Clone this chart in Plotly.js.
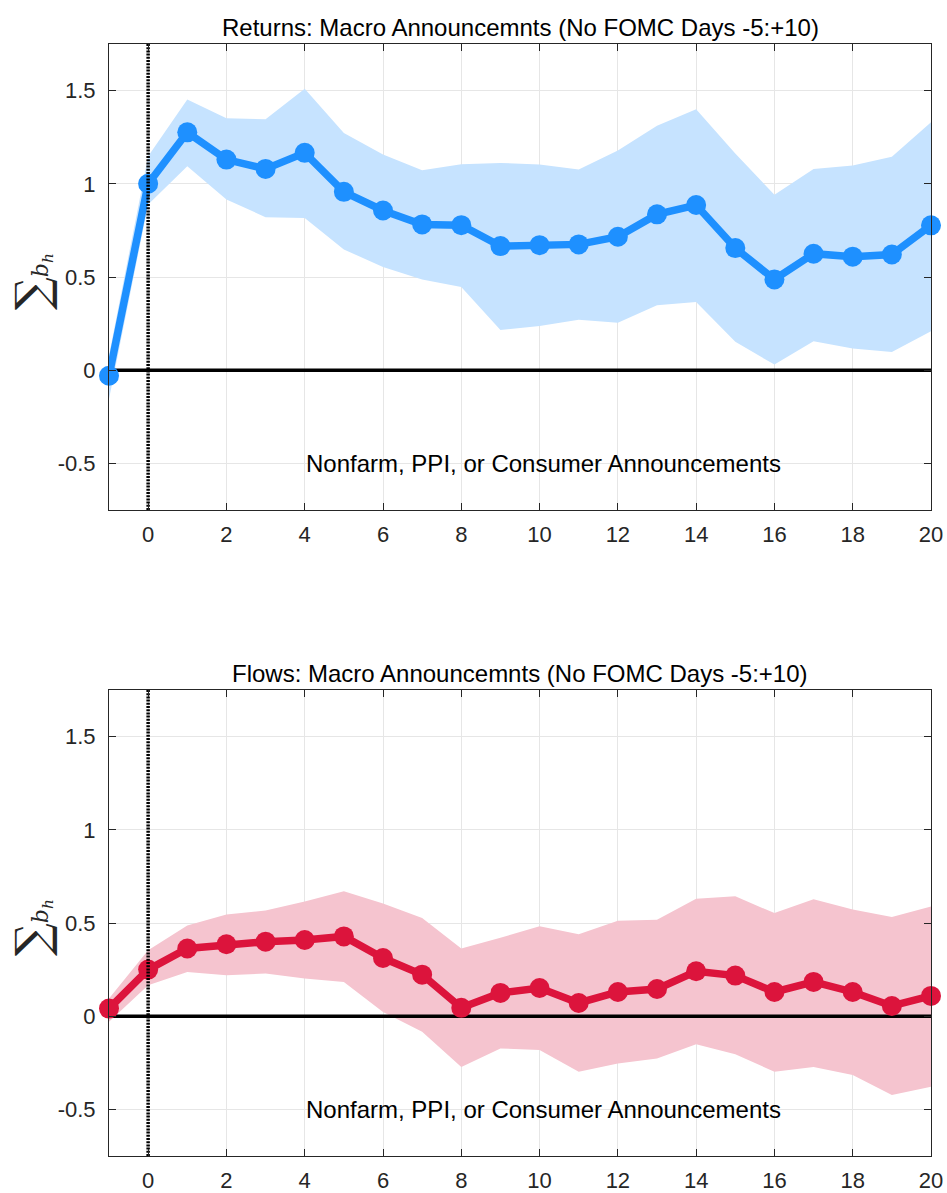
<!DOCTYPE html>
<html><head><meta charset="utf-8">
<script src="https://cdn.plot.ly/plotly-3.0.1.min.js"></script>
<style>html,body{margin:0;padding:0;background:#fff}#chart{width:947px;height:1193px}</style>
</head><body><div id="chart"></div>
<script>
const horizon = [-1,0,1,2,3,4,5,6,7,8,9,10,11,12,13,14,15,16,17,18,19,20];

const retMean  = [-0.03,1.00,1.276,1.13,1.08,1.166,0.957,0.857,0.782,0.778,0.666,0.671,0.675,0.716,0.836,0.886,0.655,0.487,0.625,0.609,0.621,0.777];
const retUpper = [0.08,1.148,1.452,1.351,1.346,1.51,1.273,1.157,1.073,1.105,1.112,1.103,1.077,1.178,1.312,1.40,1.162,0.941,1.08,1.098,1.145,1.33];
const retLower = [-0.155,0.889,1.094,0.916,0.821,0.816,0.648,0.553,0.487,0.446,0.216,0.237,0.27,0.254,0.348,0.366,0.152,0.03,0.155,0.116,0.098,0.209];

const flowMean  = [0.041,0.25,0.363,0.386,0.40,0.409,0.428,0.312,0.223,0.045,0.125,0.151,0.071,0.13,0.146,0.241,0.218,0.13,0.184,0.13,0.055,0.109];
const flowUpper = [0.095,0.354,0.487,0.546,0.567,0.616,0.67,0.604,0.527,0.363,0.421,0.482,0.439,0.512,0.518,0.63,0.643,0.553,0.628,0.573,0.532,0.589];
const flowLower = [-0.03,0.166,0.237,0.22,0.229,0.202,0.184,0.023,-0.084,-0.272,-0.173,-0.182,-0.298,-0.254,-0.227,-0.15,-0.204,-0.298,-0.272,-0.316,-0.423,-0.379];

const zeroLineX = [-1, 20];
const zeroLineY = [0, 0];
const eventLineX = [0, 0];
const eventLineY = [-0.75, 1.75];

const titles = ["Returns: Macro Announcemnts (No FOMC Days -5:+10)", "Flows: Macro Announcemnts (No FOMC Days -5:+10)"];
const note = "Nonfarm, PPI, or Consumer Announcements";
const yTickVals = [-0.5, 0, 0.5, 1, 1.5];
const yTickText = ["-0.5", "0", "0.5", "1", "1.5"];
const xTickVals = [0,2,4,6,8,10,12,14,16,18,20];

function panel(mean, upper, lower, lineColor, bandColor, xa, ya) {
  return [
    {x: horizon, y: lower, xaxis: xa, yaxis: ya, mode: 'lines', line: {width: 0, color: bandColor}, hoverinfo: 'skip', showlegend: false},
    {x: horizon, y: upper, xaxis: xa, yaxis: ya, mode: 'lines', line: {width: 0, color: bandColor}, fill: 'tonexty', fillcolor: bandColor, hoverinfo: 'skip', showlegend: false},
    {x: zeroLineX, y: zeroLineY, xaxis: xa, yaxis: ya, mode: 'lines', line: {width: 3.5, color: '#000'}, showlegend: false},
    {x: horizon, y: mean, xaxis: xa, yaxis: ya, mode: 'lines+markers', cliponaxis: false, line: {width: 7.5, color: lineColor}, marker: {size: 20, color: lineColor}, showlegend: false},
    {x: eventLineX, y: eventLineY, xaxis: xa, yaxis: ya, mode: 'lines', line: {width: 3.5, color: '#000', dash: '2px,1.2px'}, showlegend: false}
  ];
}

const data = [].concat(
  panel(retMean, retUpper, retLower, '#1E90FF', '#C6E3FF', 'x', 'y'),
  panel(flowMean, flowUpper, flowLower, '#DC143C', '#F5C4CF', 'x2', 'y2')
);

const FF = 'Liberation Sans, Arial, sans-serif';
const axisFont = {family: FF, size: 22, color: '#262626'};
function xax(anchor) {
  return {range: [-1, 20], tickvals: xTickVals, showgrid: true, gridcolor: '#e6e6e6', gridwidth: 1,
    zeroline: false, showline: true, linecolor: '#262626', linewidth: 1, mirror: 'ticks', ticks: 'inside', ticklen: 7,
    tickcolor: '#262626', tickfont: axisFont, ticklabelstandoff: 5, anchor: anchor, domain: [0, 1]};
}
function yax(anchor, dom) {
  return {range: [-0.75, 1.75], tickvals: yTickVals, ticktext: yTickText, showgrid: true, gridcolor: '#e6e6e6', gridwidth: 1,
    zeroline: false, showline: true, linecolor: '#262626', linewidth: 1, mirror: 'ticks', ticks: 'inside', ticklen: 7,
    tickcolor: '#262626', tickfont: axisFont, ticklabelstandoff: 8, anchor: anchor, domain: dom};
}

const H = 1193;
const ylab = '<span style="font-size:46px">∑</span><span style="font-family:DejaVu Serif;font-style:italic;font-size:22px">b<sub>h</sub></span>';
const layout = {
  width: 947, height: H,
  margin: {l: 109, r: 16, t: 0, b: 0},
  paper_bgcolor: '#fff', plot_bgcolor: '#fff',
  hovermode: false, showlegend: false,
  xaxis: xax('y'), yaxis: yax('x', [(H-510)/H, (H-44)/H]),
  xaxis2: xax('y2'), yaxis2: yax('x2', [(H-1156)/H, (H-690)/H]),
  annotations: [
    {text: titles[0], xref: 'paper', yref: 'paper', x: 0.5, y: (H-28)/H, xanchor: 'center', yanchor: 'middle', showarrow: false, font: {family: FF, size: 24, color: '#000'}},
    {text: titles[1], xref: 'paper', yref: 'paper', x: 0.5, y: (H-673)/H, xanchor: 'center', yanchor: 'middle', showarrow: false, font: {family: FF, size: 24, color: '#000'}},
    {text: note, xref: 'x', yref: 'y', x: 10.1, y: -0.5, xanchor: 'center', yanchor: 'middle', showarrow: false, font: {family: FF, size: 24, color: '#000'}},
    {text: note, xref: 'x2', yref: 'y2', x: 10.1, y: -0.5, xanchor: 'center', yanchor: 'middle', showarrow: false, font: {family: FF, size: 24, color: '#000'}},
    {text: ylab, xref: 'paper', yref: 'paper', x: (32-109)/822, y: (H-282)/H, xanchor: 'center', yanchor: 'middle', textangle: -90, showarrow: false, font: {family: 'DejaVu Serif, serif', size: 22, color: '#262626'}},
    {text: ylab, xref: 'paper', yref: 'paper', x: (32-109)/822, y: (H-928)/H, xanchor: 'center', yanchor: 'middle', textangle: -90, showarrow: false, font: {family: 'DejaVu Serif, serif', size: 22, color: '#262626'}}
  ]
};

Plotly.newPlot('chart', data, layout, {displayModeBar: false, staticPlot: true});
</script></body></html>
